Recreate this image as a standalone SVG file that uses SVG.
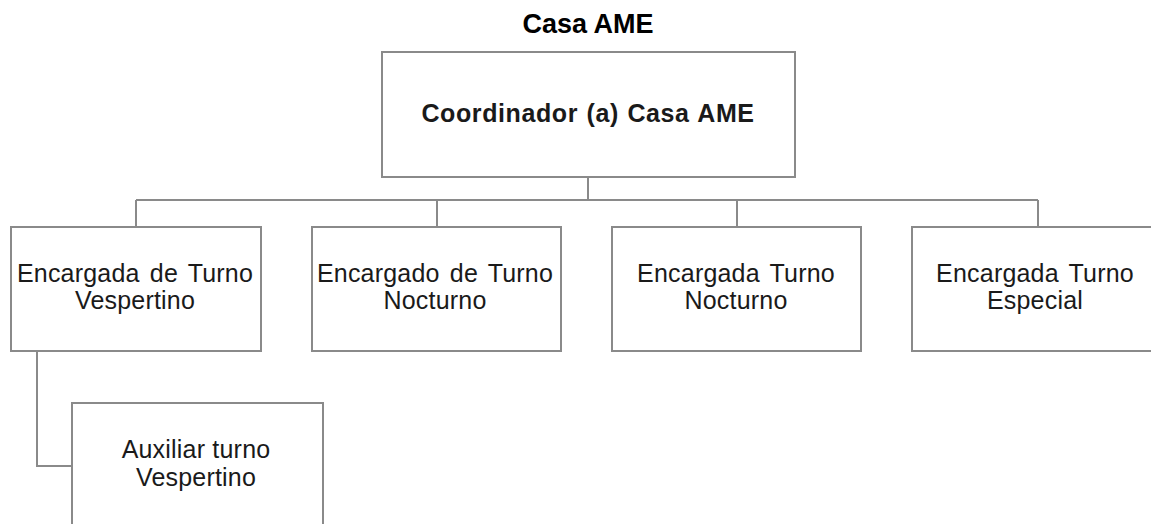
<svg xmlns="http://www.w3.org/2000/svg" width="1151" height="524" viewBox="0 0 1151 524">
<style>
.box{fill:#fff;stroke:#8a8a8a;stroke-width:2}
.con{fill:none;stroke:#8a8a8a;stroke-width:2}
.t{font-family:"Liberation Sans",Arial,sans-serif;font-size:25px;fill:#1a1a1a;text-anchor:middle;letter-spacing:0.2px;word-spacing:3px}
.b{font-weight:bold}
</style>
<rect width="1151" height="524" fill="#fff"/>
<text class="t b" x="588" y="33" style="font-size:27px;fill:#000;letter-spacing:0;word-spacing:0">Casa AME</text>
<g id="connectors">
<path class="con" d="M588 177V200M136 200H1038M136 200V227M437 200V227M737 200V227M1038 200V227"/>
<path class="con" d="M37 351V466H72"/>
</g>
<g id="coordinador">
<rect class="box" x="382" y="52" width="413" height="125"/>
<text class="t b" x="588" y="122" style="letter-spacing:0.6px;word-spacing:1px">Coordinador (a) Casa AME</text>
</g>
<g id="turno-vespertino">
<rect class="box" x="11" y="227" width="250" height="124"/>
<text class="t" x="135" y="282">Encargada de Turno</text>
<text class="t" x="135" y="309">Vespertino</text>
</g>
<g id="encargado-nocturno">
<rect class="box" x="312" y="227" width="249" height="124"/>
<text class="t" x="435" y="282">Encargado de Turno</text>
<text class="t" x="435" y="309">Nocturno</text>
</g>
<g id="encargada-nocturno">
<rect class="box" x="612" y="227" width="249" height="124"/>
<text class="t" x="736" y="282">Encargada Turno</text>
<text class="t" x="736" y="309">Nocturno</text>
</g>
<g id="turno-especial">
<rect class="box" x="912" y="227" width="250" height="124"/>
<text class="t" x="1035" y="282">Encargada Turno</text>
<text class="t" x="1035" y="309">Especial</text>
</g>
<g id="auxiliar-vespertino">
<rect class="box" x="72" y="403" width="251" height="140"/>
<text class="t" x="196" y="458" style="word-spacing:0">Auxiliar turno</text>
<text class="t" x="196" y="486">Vespertino</text>
</g>
</svg>
